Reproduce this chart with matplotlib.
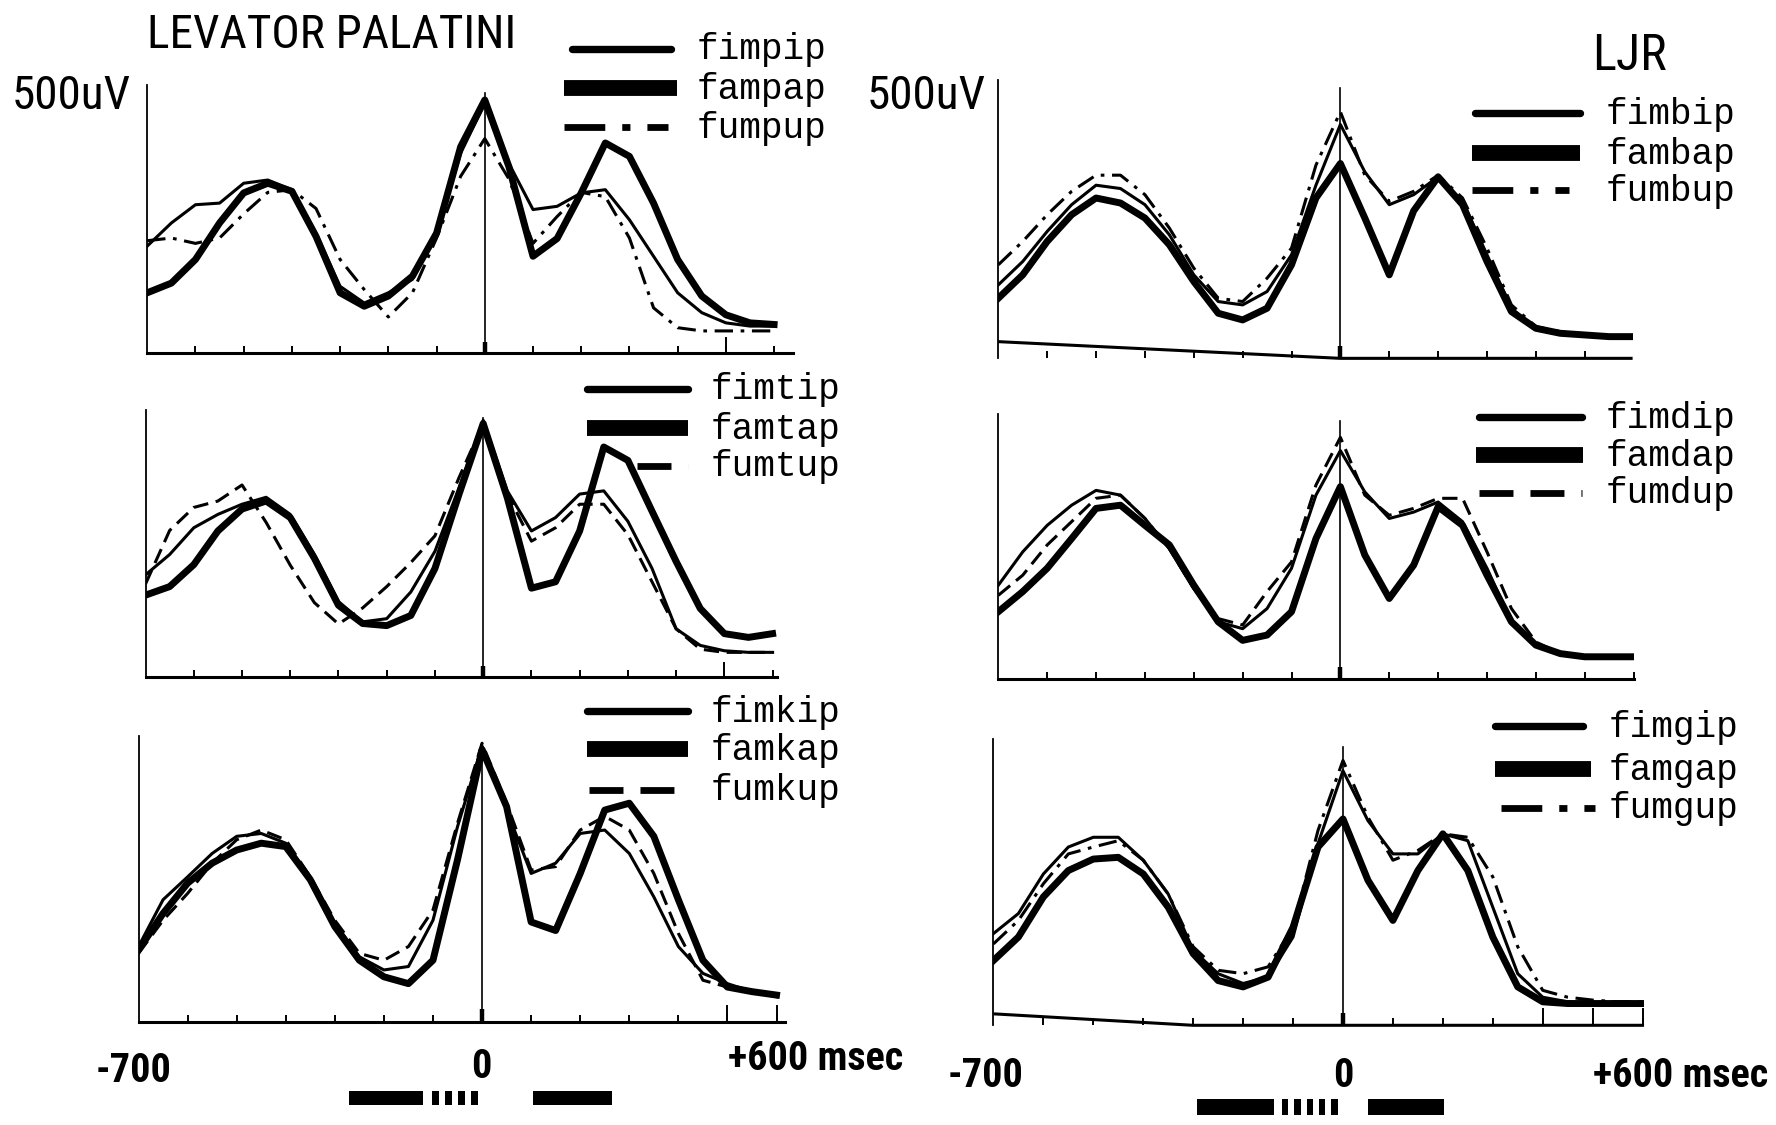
import matplotlib
matplotlib.use("Agg")
import matplotlib.pyplot as plt
import matplotlib.transforms as mtransforms
from matplotlib.patches import Rectangle

# ---------------- data (time in ms, EMG amplitude in uV) ----------------
t_ms = [-700, -650, -600, -550, -500, -450, -400, -350, -300, -250, -200, -150, -100,
        -50, 0, 50, 100, 150, 200, 250, 300, 350, 400, 450, 500, 550, 600]

# Levator palatini
fimpip = [200, 243, 277, 280, 317, 323, 305, 224, 125, 94, 113, 138, 224, 373, 466, 354, 268, 274, 299, 305, 249, 181, 113, 76, 57, 51, 51]
fampap = [113, 131, 175, 243, 299, 317, 302, 218, 113, 88, 107, 144, 224, 385, 472, 348, 181, 214, 299, 392, 367, 280, 175, 107, 72, 57, 54]
fumpup = [210, 215, 205, 215, 260, 300, 305, 270, 175, 119, 68, 113, 215, 330, 400, 325, 205, 255, 300, 292, 215, 85, 48, 42, 42, 42, 42]

fimtip = [192, 230, 280, 305, 324, 337, 305, 230, 142, 104, 110, 160, 236, 355, 481, 349, 274, 299, 343, 349, 292, 204, 91, 60, 50, 47, 47]
famtap = [154, 170, 211, 274, 315, 330, 299, 223, 135, 101, 97, 116, 204, 343, 475, 336, 167, 179, 274, 431, 406, 311, 217, 129, 82, 75, 82]
fumtup = [175, 275, 318, 330, 360, 290, 210, 140, 100, 130, 170, 215, 265, 374, 475, 343, 255, 280, 324, 324, 267, 179, 91, 53, 47, 47, 47]

fimkip = [132, 214, 254, 295, 325, 330, 313, 254, 173, 114, 91, 97, 178, 342, 483, 371, 260, 278, 330, 336, 295, 219, 132, 85, 67, 53, 44]
famkap = [126, 190, 243, 278, 301, 313, 307, 249, 167, 108, 79, 67, 108, 284, 477, 377, 175, 160, 260, 371, 383, 325, 214, 108, 61, 53, 47]
fumkup = [120, 178, 225, 278, 319, 336, 319, 254, 178, 120, 108, 132, 196, 348, 488, 383, 266, 272, 336, 360, 336, 260, 155, 73, 61, 53, 47]

# LJR
fimbip = [132, 174, 228, 276, 311, 305, 276, 222, 150, 102, 96, 120, 186, 311, 420, 335, 276, 294, 326, 282, 186, 90, 54, 48, 42, 39, 39]
fambap = [108, 150, 210, 258, 288, 279, 252, 204, 138, 81, 69, 90, 168, 288, 350, 252, 150, 265, 326, 276, 174, 84, 54, 45, 42, 39, 39]
fumbup = [168, 210, 258, 300, 329, 329, 294, 234, 162, 108, 102, 144, 198, 347, 443, 329, 282, 300, 329, 288, 198, 96, 57, 48, 42, 39, 39]

fimdip = [176, 239, 289, 327, 355, 346, 302, 245, 170, 107, 94, 132, 208, 346, 430, 352, 302, 314, 333, 296, 208, 107, 63, 47, 41, 41, 41]
famdap = [126, 164, 208, 264, 321, 327, 289, 252, 176, 107, 72, 82, 126, 264, 362, 233, 151, 214, 324, 289, 195, 107, 63, 47, 41, 41, 41]
fumdup = [157, 195, 252, 296, 340, 346, 302, 245, 170, 113, 101, 164, 220, 365, 455, 346, 308, 321, 340, 340, 239, 132, 69, 47, 41, 41, 41]

fimgip = [160, 195, 264, 311, 328, 328, 288, 229, 131, 90, 73, 84, 154, 317, 444, 357, 299, 299, 334, 322, 206, 90, 49, 41, 38, 38, 38]
famgap = [113, 154, 224, 270, 290, 293, 264, 206, 125, 78, 67, 84, 171, 311, 360, 253, 183, 270, 334, 270, 154, 67, 41, 38, 38, 38, 38]
fumgup = [142, 183, 247, 299, 311, 322, 288, 229, 137, 96, 90, 102, 171, 340, 462, 363, 288, 305, 334, 328, 259, 137, 61, 49, 44, 41, 41]

labels_lev = [["fimpip", "fampap", "fumpup"],
              ["fimtip", "famtap", "fumtup"],
              ["fimkip", "famkap", "fumkup"]]
labels_ljr = [["fimbip", "fambap", "fumbup"],
              ["fimdip", "famdap", "fumdup"],
              ["fimgip", "famgap", "fumgup"]]

# timing of the segment bars under each column (ms): solid, dotted, solid
seg_left = [(-271, -121), (-105, 0), (103, 264)]
seg_right = [(-292, -138), (-126, -2), (51, 203)]

# ---------------- layout ----------------
W, H = 1568.0, 993.0
fig = plt.figure(figsize=(17.76, 11.25), dpi=100)
fig.patch.set_facecolor("white")

COND = ["Roboto Condensed", "Liberation Sans Narrow", "Roboto", "DejaVu Sans"]
MONO = ["Liberation Mono", "DejaVu Sans Mono"]

# geometry: x(-700), x(0), x(right end), y(top=500uV), y(baseline)
panels = [
    dict(series=(fimpip, fampap, fumpup), labels=labels_lev[0], geom=(130, 428, 700, 75, 312),
         third="dashdot", leg_y=(43, 78, 112), leg_x=((505, 592), (498, 598), (498, 590)), txt_x=615,
         long_ticks=[500], base_tilt=None),
    dict(series=(fimtip, famtap, fumtup), labels=labels_lev[1], geom=(128.5, 426.6, 686, 362, 598),
         third="dashed", leg_y=(343, 378, 411), leg_x=((518, 607), (518, 607), (562, 607)), txt_x=627,
         long_ticks=[500], base_tilt=None),
    dict(series=(fimkip, famkap, fumkup), labels=labels_lev[2], geom=(122.3, 425.6, 693, 650, 902),
         third="dashed", leg_y=(628, 661, 697), leg_x=((518, 607), (518, 607), (520, 607)), txt_x=627,
         long_ticks=[500, 600], base_tilt=None),
    dict(series=(fimbip, fambap, fumbup), labels=labels_ljr[0], geom=(881.4, 1183.4, 1441.4, 70.6, 316.3),
         third="dashdot", leg_y=(100, 135, 168), leg_x=((1302, 1395), (1300, 1395), (1300, 1385)), txt_x=1418,
         long_ticks=[], base_tilt=(30, 0)),
    dict(series=(fimdip, famdap, fumdup), labels=labels_ljr[1], geom=(881.4, 1183.4, 1443, 365, 598.9),
         third="dashed", leg_y=(368, 402, 435), leg_x=((1306, 1397), (1303, 1398), (1306, 1397)), txt_x=1418,
         long_ticks=[], base_tilt=None),
    dict(series=(fimgip, famgap, fumgup), labels=labels_ljr[2], geom=(877.1, 1185.7, 1451.5, 652, 905),
         third="dashdot", leg_y=(641, 679, 713), leg_x=((1320, 1398), (1320, 1405), (1325, 1408)), txt_x=1420,
         long_ticks=[400, 500, 600], base_tilt=(20, -300)),
]

DASH = (0, (5, 2.5))
DASHDOT = (0, (6, 2.5, 1.2, 2.5))

axes = []
for p in panels:
    xL, x0, xR, yT, yB = p["geom"]
    s = (x0 - xL) / 700.0
    R = (xR - x0) / s
    ax = fig.add_axes([xL / W, 1 - yB / H, (xR - xL) / W, (yB - yT) / H])
    ax.set_xlim(-700, R)
    ax.set_ylim(0, 500)
    ax.patch.set_alpha(0)
    for sp in ("top", "right"):
        ax.spines[sp].set_visible(False)
    ax.spines["left"].set_linewidth(1.3)
    if p["base_tilt"] is None:
        ax.spines["bottom"].set_linewidth(2.2)
    else:
        ax.spines["bottom"].set_visible(False)
        v_left, t_flat = p["base_tilt"]
        ax.plot([-700, t_flat, R], [v_left, 0, 0], color="black", lw=2.2,
                clip_on=False, solid_capstyle="butt")
    ax.set_yticks([])
    ticks = list(range(-600, int(R) + 1, 100))
    ax.set_xticks(ticks)
    ax.set_xticklabels([])
    ax.tick_params(axis="x", direction="in", length=5, width=1.4, color="black")
    for lt in p["long_ticks"]:
        ax.plot([lt, lt], [0, 28], color="black", lw=1.4, clip_on=False)
    # zero line and its heavy tick
    ax.plot([0, 0], [0, 485], color="black", lw=1.2)
    ax.plot([0, 0], [0, 22], color="black", lw=3.2, solid_capstyle="butt")

    thin, thick, third = p["series"]
    ls3 = DASHDOT if p["third"] == "dashdot" else DASH
    ax.plot(t_ms, thin, color="black", lw=2.2, solid_joinstyle="round")
    ax.plot(t_ms, thick, color="black", lw=5.0, solid_joinstyle="round")
    ax.plot(t_ms, third, color="black", lw=2.2, linestyle=ls3)
    axes.append(ax)

# overlay for annotations in pixel coordinates
ov = fig.add_axes([0, 0, 1, 1])
ov.set_xlim(0, W)
ov.set_ylim(H, 0)
ov.axis("off")

PX = 0.8155  # points per (shrunk) pixel
for p in panels:
    ly = p["leg_y"]
    lx = p["leg_x"]
    ov.plot(lx[0], [ly[0], ly[0]], color="black", lw=6.5 * PX, solid_capstyle="round")
    ov.plot(lx[1], [ly[1], ly[1]], color="black", lw=14 * PX, solid_capstyle="butt")
    ls3 = DASHDOT if p["third"] == "dashdot" else DASH
    ov.plot(lx[2], [ly[2], ly[2]], color="black", lw=6 * PX, linestyle=ls3, dash_capstyle="butt")
    for yy, lab in zip(ly, p["labels"]):
        ov.text(p["txt_x"], yy + 1, lab, family=MONO, fontsize=26, weight="normal",
                ha="left", va="center", color="black")

ov.text(130, 31, "LEVATOR PALATINI", family=COND, fontsize=34,
        ha="left", va="center", color="black")
ov.text(1439, 49, "LJR", family=COND, fontsize=36,
        ha="center", va="center", color="black")
ov.text(10, 85, "500uV", family=COND, fontsize=34,
        ha="left", va="center", color="black")
ov.text(765, 85, "500uV", family=COND, fontsize=34,
        ha="left", va="center", color="black")

for x, y, s_ in [(118, 945, "-700"), (425, 942, "0"), (720, 935, "+600 msec"),
                 (870, 950, "-700"), (1186, 950, "0"), (1484, 950, "+600 msec")]:
    ov.text(x, y, s_, family=COND, fontsize=29, weight="bold",
            ha="center", va="center", color="black")

# segment bars (drawn in the time scale of the bottom panels)
for ax, segs, yc, h, ndots in [(axes[2], seg_left, 969, 12, 4), (axes[5], seg_right, 977, 14, 5)]:
    tr = mtransforms.blended_transform_factory(ax.transData, ov.transData)
    (a1, b1), (a2, b2), (a3, b3) = segs
    ov.add_patch(Rectangle((a1, yc - h / 2), b1 - a1, h, transform=tr, color="black", lw=0))
    ov.add_patch(Rectangle((a3, yc - h / 2), b3 - a3, h, transform=tr, color="black", lw=0))
    step = (b2 - a2) / ndots
    for i in range(ndots):
        ov.add_patch(Rectangle((a2 + i * step + step * 0.15, yc - h / 2), step * 0.5, h,
                               transform=tr, color="black", lw=0))

fig.savefig("out.png", dpi=100, facecolor="white")
